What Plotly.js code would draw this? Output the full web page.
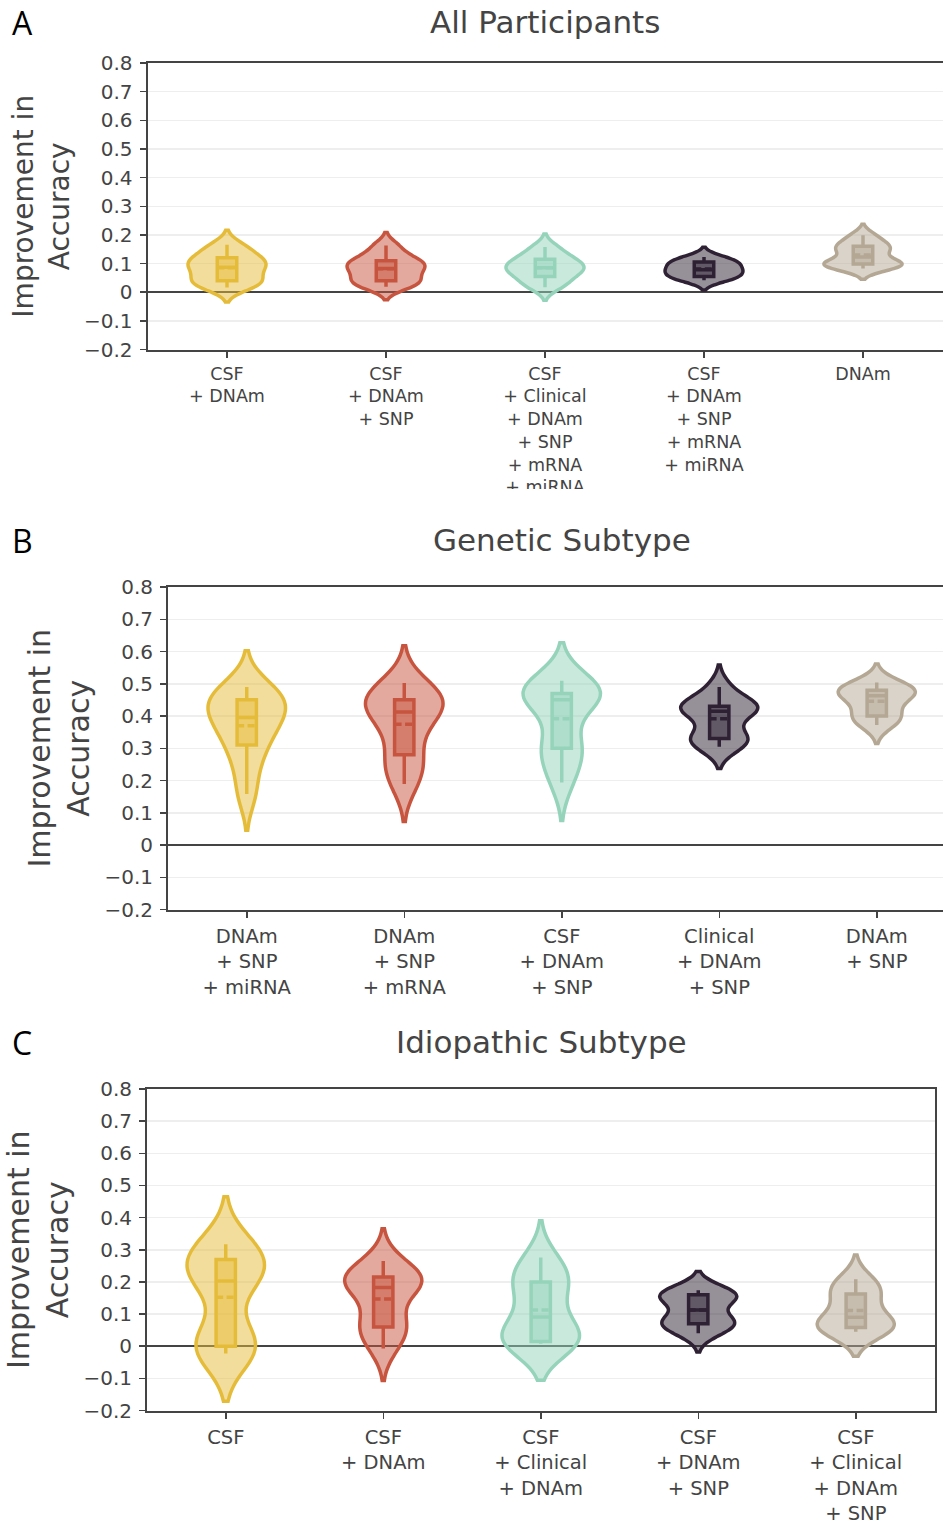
<!DOCTYPE html>
<html><head><meta charset="utf-8">
<script src="https://cdn.plot.ly/plotly-3.0.1.min.js"></script>
<style>html,body{margin:0;padding:0;overflow:hidden;background:#fff;} #chart{width:960px;height:1526px;}</style>
</head><body><div id="chart"></div>
<script>
// ---------- categories (tick labels) ----------
const catA = ["CSF<br>+ DNAm", "CSF<br>+ DNAm<br>+ SNP", "CSF<br>+ Clinical<br>+ DNAm<br>+ SNP<br>+ mRNA<br>+ miRNA", "CSF<br>+ DNAm<br>+ SNP<br>+ mRNA<br>+ miRNA", "DNAm"];
const catB = ["DNAm<br>+ SNP<br>+ miRNA", "DNAm<br>+ SNP<br>+ mRNA", "CSF<br>+ DNAm<br>+ SNP", "Clinical<br>+ DNAm<br>+ SNP", "DNAm<br>+ SNP"];
const catC = ["CSF", "CSF<br>+ DNAm", "CSF<br>+ Clinical<br>+ DNAm", "CSF<br>+ DNAm<br>+ SNP", "CSF<br>+ Clinical<br>+ DNAm<br>+ SNP"];

// ---------- improvement in accuracy (per fold) ----------
// A: All Participants
const a1 = [0.016, 0.03, 0.04, 0.06, 0.08, 0.095, 0.105, 0.12, 0.14, 0.166];
const a2 = [0.019, 0.03, 0.04, 0.06, 0.075, 0.09, 0.10, 0.11, 0.13, 0.163];
const a3 = [0.017, 0.035, 0.055, 0.07, 0.08, 0.09, 0.10, 0.115, 0.13, 0.158];
const a4 = [0.042, 0.05, 0.055, 0.07, 0.075, 0.082, 0.095, 0.105, 0.11, 0.123];
const a5 = [0.083, 0.09, 0.098, 0.10, 0.11, 0.135, 0.15, 0.16, 0.175, 0.199];
// B: Genetic Subtype
const b1 = [0.158, 0.25, 0.31, 0.35, 0.38, 0.41, 0.43, 0.45, 0.47, 0.49];
const b2 = [0.189, 0.24, 0.28, 0.35, 0.40, 0.425, 0.44, 0.45, 0.47, 0.502];
const b3 = [0.194, 0.26, 0.30, 0.33, 0.44, 0.46, 0.465, 0.47, 0.49, 0.509];
const b4 = [0.305, 0.32, 0.33, 0.345, 0.41, 0.42, 0.425, 0.43, 0.44, 0.49];
const b5 = [0.372, 0.39, 0.40, 0.425, 0.455, 0.47, 0.472, 0.48, 0.49, 0.504];
// C: Idiopathic Subtype
const c1 = [-0.023, -0.005, 0.0, 0.03, 0.19, 0.215, 0.24, 0.27, 0.29, 0.317];
const c2 = [-0.007, 0.045, 0.06, 0.10, 0.175, 0.19, 0.20, 0.215, 0.225, 0.265];
const c3 = [0.008, 0.012, 0.015, 0.025, 0.07, 0.112, 0.18, 0.20, 0.23, 0.276];
const c4 = [0.04, 0.06, 0.07, 0.08, 0.09, 0.135, 0.15, 0.16, 0.165, 0.174];
const c5 = [0.045, 0.052, 0.058, 0.065, 0.08, 0.10, 0.15, 0.162, 0.19, 0.208];

// kernel bandwidths of the density estimates
const bwA = [0.025, 0.0225, 0.0225, 0.017, 0.019];
const bwB = [0.056, 0.058, 0.059, 0.034, 0.0285];
const bwC = [0.074, 0.05, 0.057, 0.029, 0.038];

const colors = ["#E5BC3A", "#C7543E", "#95D3BB", "#2D2133", "#B4A894"];

const W = 960, H = 1526;
const fx = v => v / W;
const fy = v => 1 - v / H;

const panels = [
  {id: "A", cats: catA, data: [a1, a2, a3, a4, a5], bw: bwA, xa: "x", ya: "y", left: 147.5, right: 942.5, top: 63, bottom: 349.5, tick: 17.5, tstand: 1, ttl: 28},
  {id: "B", cats: catB, data: [b1, b2, b3, b4, b5], bw: bwB, xa: "x2", ya: "y2", left: 168, right: 955.5, top: 587, bottom: 909.5, tick: 19.5, tstand: 2, ttl: 30},
  {id: "C", cats: catC, data: [c1, c2, c3, c4, c5], bw: bwC, xa: "x3", ya: "y3", left: 147, right: 934.5, top: 1089, bottom: 1410.5, tick: 19.5, tstand: 2, ttl: 30}
];

const traces = [];
panels.forEach(p => {
  p.data.forEach((vals, i) => {
    traces.push({
      type: "violin",
      x: vals.map(() => p.cats[i]),
      y: vals,
      xaxis: p.xa, yaxis: p.ya,
      name: p.cats[i],
      scalegroup: p.id + i,
      bandwidth: p.bw[i],
      line: {color: colors[i], width: 3.5},
      box: {visible: true},
      meanline: {visible: true},
      points: false,
      showlegend: false
    });
  });
});

const font = "DejaVu Sans, Verdana, sans-serif";
const layout = {
  width: W, height: H,
  margin: {l: 0, r: 0, t: 0, b: 0},
  paper_bgcolor: "#fff", plot_bgcolor: "#fff",
  font: {family: font, color: "#444"},
  showlegend: false,
  annotations: [
    {text: "All Participants", x: fx(545), y: fy(22), xref: "paper", yref: "paper", showarrow: false, xanchor: "center", yanchor: "middle", font: {size: 31, color: "#444", family: font}},
    {text: "Genetic Subtype", x: fx(562), y: fy(540), xref: "paper", yref: "paper", showarrow: false, xanchor: "center", yanchor: "middle", font: {size: 31, color: "#444", family: font}},
    {text: "Idiopathic Subtype", x: fx(541), y: fy(1042), xref: "paper", yref: "paper", showarrow: false, xanchor: "center", yanchor: "middle", font: {size: 31, color: "#444", family: font}},
    {text: "A", x: fx(22), y: fy(22), xref: "paper", yref: "paper", showarrow: false, xanchor: "center", yanchor: "middle", font: {size: 32, color: "#000", family: "Open Sans, sans-serif"}},
    {text: "B", x: fx(22), y: fy(540), xref: "paper", yref: "paper", showarrow: false, xanchor: "center", yanchor: "middle", font: {size: 32, color: "#000", family: "Open Sans, sans-serif"}},
    {text: "C", x: fx(22), y: fy(1042), xref: "paper", yref: "paper", showarrow: false, xanchor: "center", yanchor: "middle", font: {size: 32, color: "#000", family: "Open Sans, sans-serif"}}
  ],
  shapes: [
    {type: "rect", xref: "paper", yref: "paper", x0: 0, x1: 1, y0: fy(506), y1: fy(489), fillcolor: "#fff", line: {width: 0}, layer: "above"}
  ]
};

panels.forEach((p, k) => {
  const sfx = k === 0 ? "" : String(k + 1);
  layout["xaxis" + sfx] = {
    domain: [fx(p.left), Math.min(1, fx(p.right))],
    anchor: "y" + sfx,
    type: "category",
    categoryorder: "array", categoryarray: p.cats,
    showline: true, linecolor: "#444", linewidth: 2, mirror: true,
    ticks: "outside", ticklen: 6, tickwidth: 1.5, tickcolor: "#444",
    ticklabelstandoff: p.tstand,
    tickfont: {size: p.tick, color: "#444", family: font},
    showgrid: false, zeroline: false, automargin: false, fixedrange: true
  };
  layout["yaxis" + sfx] = {
    domain: [fy(p.bottom), fy(p.top)],
    anchor: "x" + sfx,
    range: [-0.2, 0.8], tick0: 0, dtick: 0.1,
    showline: true, linecolor: "#444", linewidth: 2, mirror: true,
    ticks: "outside", ticklen: 6, tickwidth: 1.5, tickcolor: "#444",
    ticklabelstandoff: 3,
    tickfont: {size: 20, color: "#444", family: font},
    showgrid: true, gridcolor: "#eeeeee", gridwidth: 1.5,
    zeroline: true, zerolinecolor: "#444", zerolinewidth: 2,
    title: {text: "Improvement in<br>Accuracy", font: {size: p.ttl, color: "#444", family: font}, standoff: 6},
    automargin: false, fixedrange: true
  };
});

Plotly.newPlot("chart", traces, layout, {staticPlot: true, displayModeBar: false});
</script>
</body></html>
